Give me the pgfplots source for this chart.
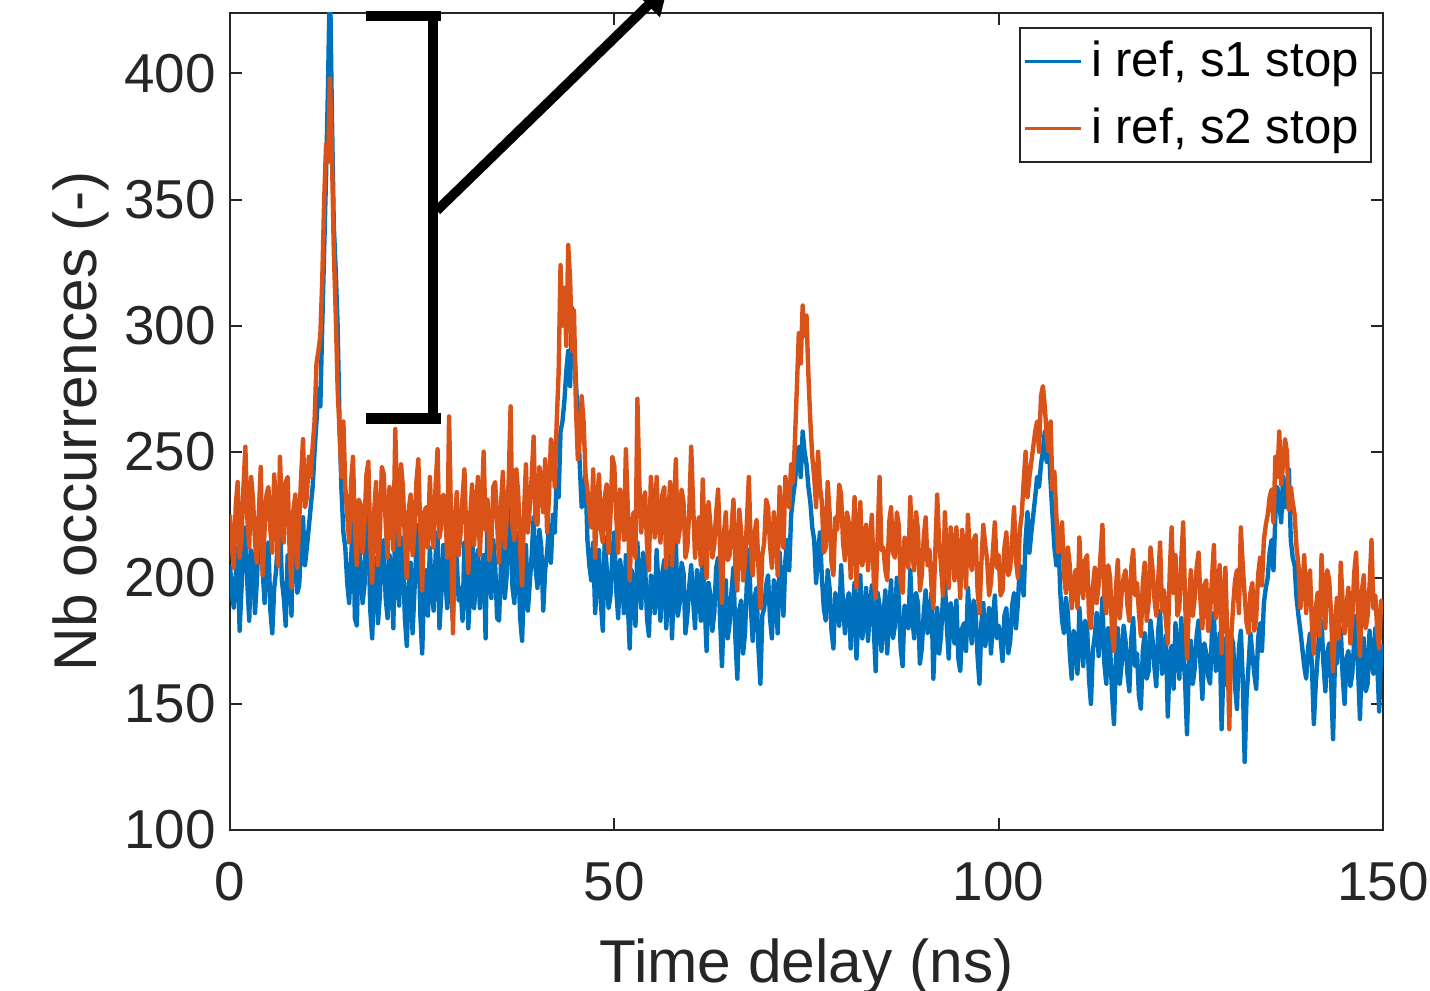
\documentclass[border=0pt]{standalone}
\usepackage{fontspec}
\setmainfont{Liberation Sans}
\usepackage{pgfplots}
\usepackage{pgfplotstable}
\pgfplotsset{compat=1.18}
\usetikzlibrary{arrows.meta}
\definecolor{mblue}{rgb}{0,0.447,0.741}
\definecolor{morange}{rgb}{0.85,0.325,0.098}
\definecolor{axgray}{rgb}{0.15,0.15,0.15}

% counts per 0.25 ns bin, i ref / s1 stop (one line = 5 ns)
\pgfplotstableread[row sep=\\]{y\\
205\\194\\188\\201\\212\\179\\196\\215\\220\\198\\183\\211\\207\\186\\199\\218\\226\\203\\190\\209\\
214\\187\\178\\196\\203\\216\\221\\199\\192\\181\\209\\206\\185\\225\\217\\194\\197\\213\\224\\205\\
212\\220\\228\\236\\250\\262\\275\\268\\300\\330\\360\\395\\440\\385\\340\\322\\300\\262\\235\\218\\
212\\198\\190\\207\\224\\184\\181\\214\\205\\190\\197\\225\\219\\187\\176\\203\\208\\182\\193\\211\\
215\\192\\184\\209\\202\\180\\227\\200\\189\\216\\210\\184\\173\\197\\206\\178\\195\\212\\221\\186\\
170\\196\\203\\185\\212\\194\\187\\209\\218\\180\\194\\213\\201\\188\\230\\196\\183\\214\\207\\191\\
196\\183\\214\\201\\180\\195\\222\\188\\199\\211\\188\\203\\209\\176\\226\\199\\192\\215\\205\\184\\
183\\205\\217\\192\\201\\214\\229\\196\\190\\218\\208\\184\\175\\200\\213\\187\\198\\209\\224\\204\\
196\\219\\212\\187\\203\\210\\221\\206\\225\\218\\240\\232\\258\\262\\270\\282\\290\\276\\307\\296\\
278\\262\\245\\228\\230\\241\\215\\205\\199\\214\\186\\198\\211\\190\\179\\216\\204\\188\\193\\210\\
218\\195\\184\\207\\200\\186\\209\\190\\172\\203\\196\\181\\214\\197\\188\\210\\205\\184\\177\\201\\
199\\186\\211\\196\\183\\202\\207\\180\\194\\209\\176\\198\\215\\185\\190\\206\\202\\178\\185\\197\\
205\\191\\180\\203\\196\\183\\212\\190\\171\\198\\193\\179\\186\\204\\208\\184\\165\\188\\199\\176\\
182\\195\\204\\176\\160\\187\\191\\170\\178\\199\\211\\189\\175\\192\\196\\172\\158\\185\\188\\197\\
201\\184\\176\\199\\193\\178\\210\\196\\185\\207\\215\\203\\225\\232\\238\\247\\252\\240\\258\\250\\
245\\236\\230\\220\\215\\198\\210\\218\\200\\188\\183\\203\\196\\179\\172\\194\\190\\181\\205\\190\\
178\\190\\194\\172\\186\\198\\168\\185\\201\\176\\182\\196\\175\\188\\197\\180\\163\\194\\189\\171\\
184\\195\\170\\186\\199\\176\\181\\200\\192\\172\\165\\189\\187\\180\\203\\185\\176\\194\\190\\166\\
172\\186\\195\\178\\183\\194\\160\\179\\188\\170\\177\\192\\199\\181\\168\\190\\185\\174\\191\\168\\
163\\180\\182\\171\\196\\183\\174\\191\\187\\169\\158\\182\\190\\173\\179\\188\\170\\184\\193\\176\\
181\\176\\167\\185\\188\\170\\175\\189\\194\\180\\190\\205\\200\\193\\215\\226\\210\\218\\225\\232\\
240\\236\\245\\250\\258\\246\\255\\238\\225\\212\\205\\218\\195\\183\\178\\192\\186\\170\\160\\179\\
174\\162\\188\\176\\165\\183\\181\\160\\150\\171\\177\\186\\169\\178\\192\\166\\158\\180\\172\\154\\
142\\168\\180\\158\\166\\181\\175\\162\\155\\176\\184\\165\\170\\153\\148\\171\\178\\160\\163\\183\\
176\\165\\157\\179\\187\\162\\168\\177\\145\\168\\173\\156\\182\\170\\160\\184\\171\\159\\138\\166\\
175\\158\\164\\177\\183\\166\\152\\174\\170\\161\\158\\179\\186\\163\\167\\178\\140\\165\\176\\157\\
161\\177\\174\\157\\148\\172\\179\\160\\127\\153\\165\\178\\170\\162\\156\\176\\182\\171\\190\\196\\
200\\210\\215\\203\\225\\236\\230\\222\\240\\228\\235\\243\\215\\208\\205\\192\\185\\179\\172\\165\\
160\\172\\178\\165\\142\\158\\169\\180\\183\\166\\155\\170\\174\\159\\136\\168\\166\\177\\180\\161\\
150\\168\\171\\157\\162\\175\\185\\164\\144\\170\\176\\155\\158\\179\\168\\162\\180\\166\\147\\173\\
165\\
}\sone

% counts per 0.25 ns bin, i ref / s2 stop (one line = 5 ns)
\pgfplotstableread[row sep=\\]{y\\
225\\212\\204\\229\\238\\208\\215\\236\\252\\224\\212\\240\\231\\214\\206\\226\\244\\201\\219\\233\\
236\\219\\210\\241\\228\\205\\248\\226\\214\\238\\240\\211\\196\\227\\233\\204\\222\\240\\255\\228\\
232\\248\\240\\252\\262\\285\\290\\296\\318\\350\\372\\365\\398\\370\\330\\305\\275\\258\\240\\262\\
236\\225\\214\\238\\248\\219\\205\\231\\229\\210\\222\\241\\246\\213\\198\\226\\238\\205\\217\\244\\
241\\222\\208\\236\\230\\211\\259\\228\\213\\245\\236\\215\\200\\227\\233\\209\\219\\238\\247\\220\\
195\\226\\228\\212\\240\\220\\212\\237\\251\\216\\221\\233\\230\\208\\264\\224\\178\\221\\234\\209\\
218\\232\\243\\215\\202\\225\\237\\213\\226\\240\\209\\228\\250\\219\\231\\207\\214\\236\\238\\222\\
206\\229\\242\\212\\224\\238\\268\\220\\215\\243\\233\\211\\197\\226\\245\\218\\228\\240\\256\\223\\
221\\244\\239\\226\\247\\218\\232\\255\\250\\236\\262\\281\\324\\300\\315\\292\\332\\318\\290\\306\\
268\\247\\255\\272\\262\\241\\235\\226\\220\\243\\208\\230\\241\\219\\214\\232\\237\\210\\225\\248\\
244\\224\\210\\235\\230\\215\\251\\228\\199\\221\\226\\208\\271\\238\\218\\229\\234\\213\\203\\240\\
228\\216\\240\\221\\214\\233\\236\\204\\222\\238\\205\\226\\247\\214\\219\\235\\230\\208\\212\\227\\
252\\229\\208\\219\\224\\205\\239\\216\\200\\230\\221\\208\\213\\226\\235\\212\\190\\217\\226\\207\\
209\\220\\231\\205\\195\\227\\218\\199\\206\\223\\240\\212\\201\\218\\223\\204\\188\\209\\214\\231\\
228\\213\\204\\226\\219\\201\\236\\222\\212\\240\\235\\228\\245\\238\\255\\276\\297\\285\\308\\296\\
304\\280\\262\\248\\240\\228\\250\\236\\230\\210\\212\\238\\226\\206\\201\\224\\219\\237\\233\\214\\
207\\226\\222\\200\\215\\232\\196\\218\\230\\205\\210\\221\\203\\214\\225\\199\\192\\216\\240\\211\\
212\\203\\199\\222\\228\\210\\208\\226\\221\\198\\194\\216\\215\\204\\232\\210\\203\\226\\219\\195\\
201\\216\\224\\205\\211\\197\\188\\210\\233\\214\\205\\193\\226\\208\\196\\220\\214\\199\\220\\207\\
192\\219\\210\\196\\225\\208\\203\\215\\217\\195\\186\\206\\221\\213\\207\\193\\198\\211\\222\\204\\
209\\193\\195\\212\\218\\201\\204\\215\\228\\207\\200\\219\\225\\238\\250\\232\\240\\246\\252\\258\\
262\\250\\272\\276\\268\\256\\250\\262\\235\\242\\225\\210\\215\\222\\201\\194\\212\\205\\188\\197\\
203\\188\\216\\198\\192\\207\\209\\185\\180\\196\\204\\190\\197\\209\\221\\193\\186\\205\\200\\178\\
171\\196\\207\\184\\194\\200\\203\\189\\183\\204\\211\\193\\198\\186\\177\\198\\206\\183\\190\\212\\
204\\192\\185\\199\\214\\187\\195\\183\\174\\202\\220\\194\\209\\185\\188\\207\\222\\191\\168\\189\\
203\\185\\192\\204\\210\\191\\180\\197\\199\\179\\186\\200\\213\\184\\195\\205\\170\\192\\204\\175\\
140\\176\\189\\199\\203\\186\\220\\205\\193\\182\\178\\194\\198\\179\\184\\201\\208\\197\\215\\221\\
225\\232\\235\\222\\248\\240\\258\\237\\245\\255\\250\\227\\236\\230\\225\\212\\205\\188\\196\\209\\
186\\198\\203\\181\\170\\188\\194\\177\\209\\192\\180\\203\\199\\185\\163\\180\\192\\176\\206\\190\\
178\\189\\196\\174\\184\\202\\210\\186\\169\\195\\201\\180\\185\\197\\215\\188\\193\\179\\172\\191\\
188\\
}\stwo

\begin{document}
\begin{tikzpicture}
\begin{axis}[
    scale only axis,
    width=288.25pt, height=204.25pt,
    xmin=0, xmax=150, ymin=100, ymax=424,
    xtick={0,50,100,150},
    ytick={100,150,200,250,300,350,400},
    tick align=inside,
    major tick length=2.9pt,
    axis line style={axgray, line width=0.5pt},
    every tick/.style={axgray, line width=0.5pt},
    /pgf/number format/assume math mode=true,
    ticklabel style={font=\fontsize{13.7}{16}\selectfont, text=axgray},
    xticklabel shift=4.5pt,
    label style={font=\fontsize{15.1}{18}\selectfont, text=axgray},
    xlabel={Time delay (ns)},
    ylabel={Nb occurrences (-)},
    xlabel shift=2.5pt,
    ylabel shift=-3pt,
    legend cell align=left,
    legend image code/.code={\draw[#1, line width=0.8pt] (0pt,0pt) -- (14pt,0pt);},
    legend style={at={(1,1)}, anchor=north east, xshift=-2.75pt, yshift=-3.5pt,
        draw=axgray, line width=0.5pt, inner xsep=1pt, inner ysep=1.25pt,
        font=\fontsize{12.3}{14}\selectfont, row sep=2.25pt},
]
\addplot[mblue, line width=1.1pt, line join=round] table[x expr=\coordindex*0.25, y=y]{\sone};
\addlegendentry{i ref, s1 stop}
\addplot[morange, line width=1.1pt, line join=round] table[x expr=\coordindex*0.25, y=y]{\stwo};
\addlegendentry{i ref, s2 stop}
\coordinate (sw) at (rel axis cs:0,0);
\coordinate (ne) at (rel axis cs:1,1);
\coordinate (bt1) at (axis cs:17.7,422.9);
\coordinate (bt2) at (axis cs:27.45,422.9);
\coordinate (bv1) at (axis cs:26.4,422.9);
\coordinate (bv2) at (axis cs:26.4,263.2);
\coordinate (bb1) at (axis cs:17.7,263.2);
\coordinate (bb2) at (axis cs:27.45,263.2);
\coordinate (ar1) at (axis cs:26.9,345.6);
\coordinate (ar2) at (axis cs:57.0,434.8);
\end{axis}
\draw[black, line width=2.6pt] (bt1) -- (bt2);
\draw[black, line width=2.6pt] (bb1) -- (bb2);
\draw[black, line width=2.6pt] (bv1) -- (bv2);
\draw[black, line width=2.4pt, -{Triangle[length=7pt, width=8pt]}] (ar1) -- (ar2);
\pgfresetboundingbox
\useasboundingbox ([shift={(-57.5pt,-40.25pt)}]sw) rectangle ([shift={(11.75pt,3.25pt)}]ne);
\end{tikzpicture}
\end{document}
